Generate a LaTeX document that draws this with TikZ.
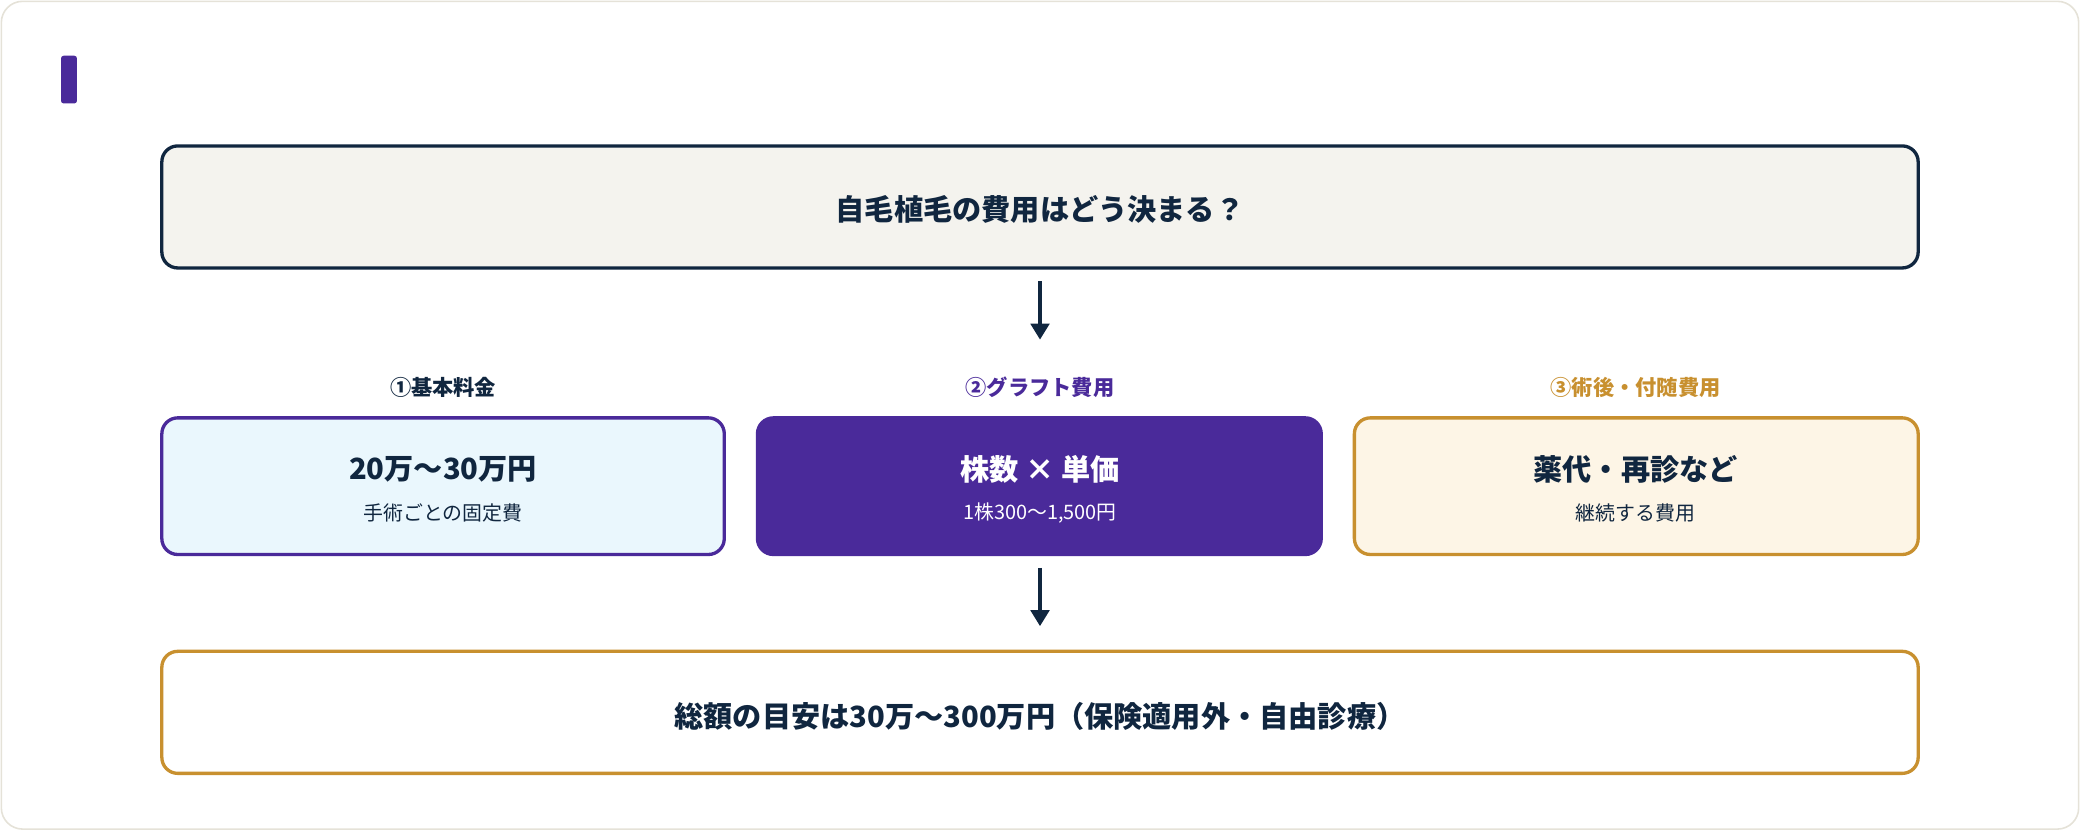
\documentclass[tikz,border=0pt]{standalone}
\usepackage{fontspec}
\setmainfont{Noto Sans CJK JP}
\newfontfamily\jb{Noto Sans CJK JP}[BoldFont={* Bold}]
\usetikzlibrary{arrows.meta}
\definecolor{navy}{HTML}{10263F}
\definecolor{purp}{HTML}{4A2A9A}
\definecolor{gold}{HTML}{C8902F}
\definecolor{bgbox}{HTML}{F4F3EE}
\definecolor{lblue}{HTML}{EAF7FD}
\definecolor{lgold}{HTML}{FDF5E6}
\definecolor{frame}{HTML}{E5E2D8}
\begin{document}
\begin{tikzpicture}[x=1pt,y=-1pt,
  box/.style={draw, rounded corners=12pt, line width=2.5pt, inner sep=0pt},
  arr/.style={-{Triangle[length=12pt,width=14pt]}, line width=2.5pt, draw=navy},
  big/.style={font=\fontsize{22}{26}\selectfont\bfseries},
  small/.style={font=\fontsize{15}{18}\selectfont},
  lab/.style={font=\fontsize{16}{20}\selectfont\bfseries}]
\useasboundingbox (0,0) rectangle (1568,626);
\draw[frame, fill=white, rounded corners=16pt, line width=1.2pt] (1,1) rectangle (1567,625);
\fill[purp, rounded corners=2pt] (46,42) rectangle (58,78);
\draw[box, draw=navy, fill=bgbox] (122,110) rectangle (1446,202);
\node[big, text=navy] (t) at (784,158) {自毛植毛の費用はどう決まる？};
\coordinate (a1s) at (784,212); \coordinate (a1e) at (784,256);
\draw[arr] (a1s) -- (a1e);
\node[lab, text=navy] (l1) at (334,292) {①基本料金};
\node[lab, text=purp] (l2) at (784,292) {②グラフト費用};
\node[lab, text=gold] (l3) at (1233,292) {③術後・付随費用};
\draw[box, draw=purp, fill=lblue] (122,315) rectangle (546,418);
\node[big, text=navy] (b1a) at (334,354) {20万〜30万円};
\node[small, text=navy] (b1b) at (334,387) {手術ごとの固定費};
\draw[box, draw=purp, fill=purp] (571,315) rectangle (996,418);
\node[big, text=white] (b2a) at (784,354) {株数 × 単価};
\node[small, text=white] (b2b) at (784,387) {1株300〜1,500円};
\draw[box, draw=gold, fill=lgold] (1021,315) rectangle (1446,418);
\node[big, text=navy] (b3a) at (1233,354) {薬代・再診など};
\node[small, text=navy] (b3b) at (1233,387) {継続する費用};
\coordinate (a2s) at (784,428); \coordinate (a2e) at (784,472);
\draw[arr] (a2s) -- (a2e);
\draw[box, draw=gold, fill=white] (122,491) rectangle (1446,583);
\node[big, text=navy] (bt) at (784,540) {総額の目安は30万〜300万円（保険適用外・自由診療）};
\end{tikzpicture}
\end{document}
